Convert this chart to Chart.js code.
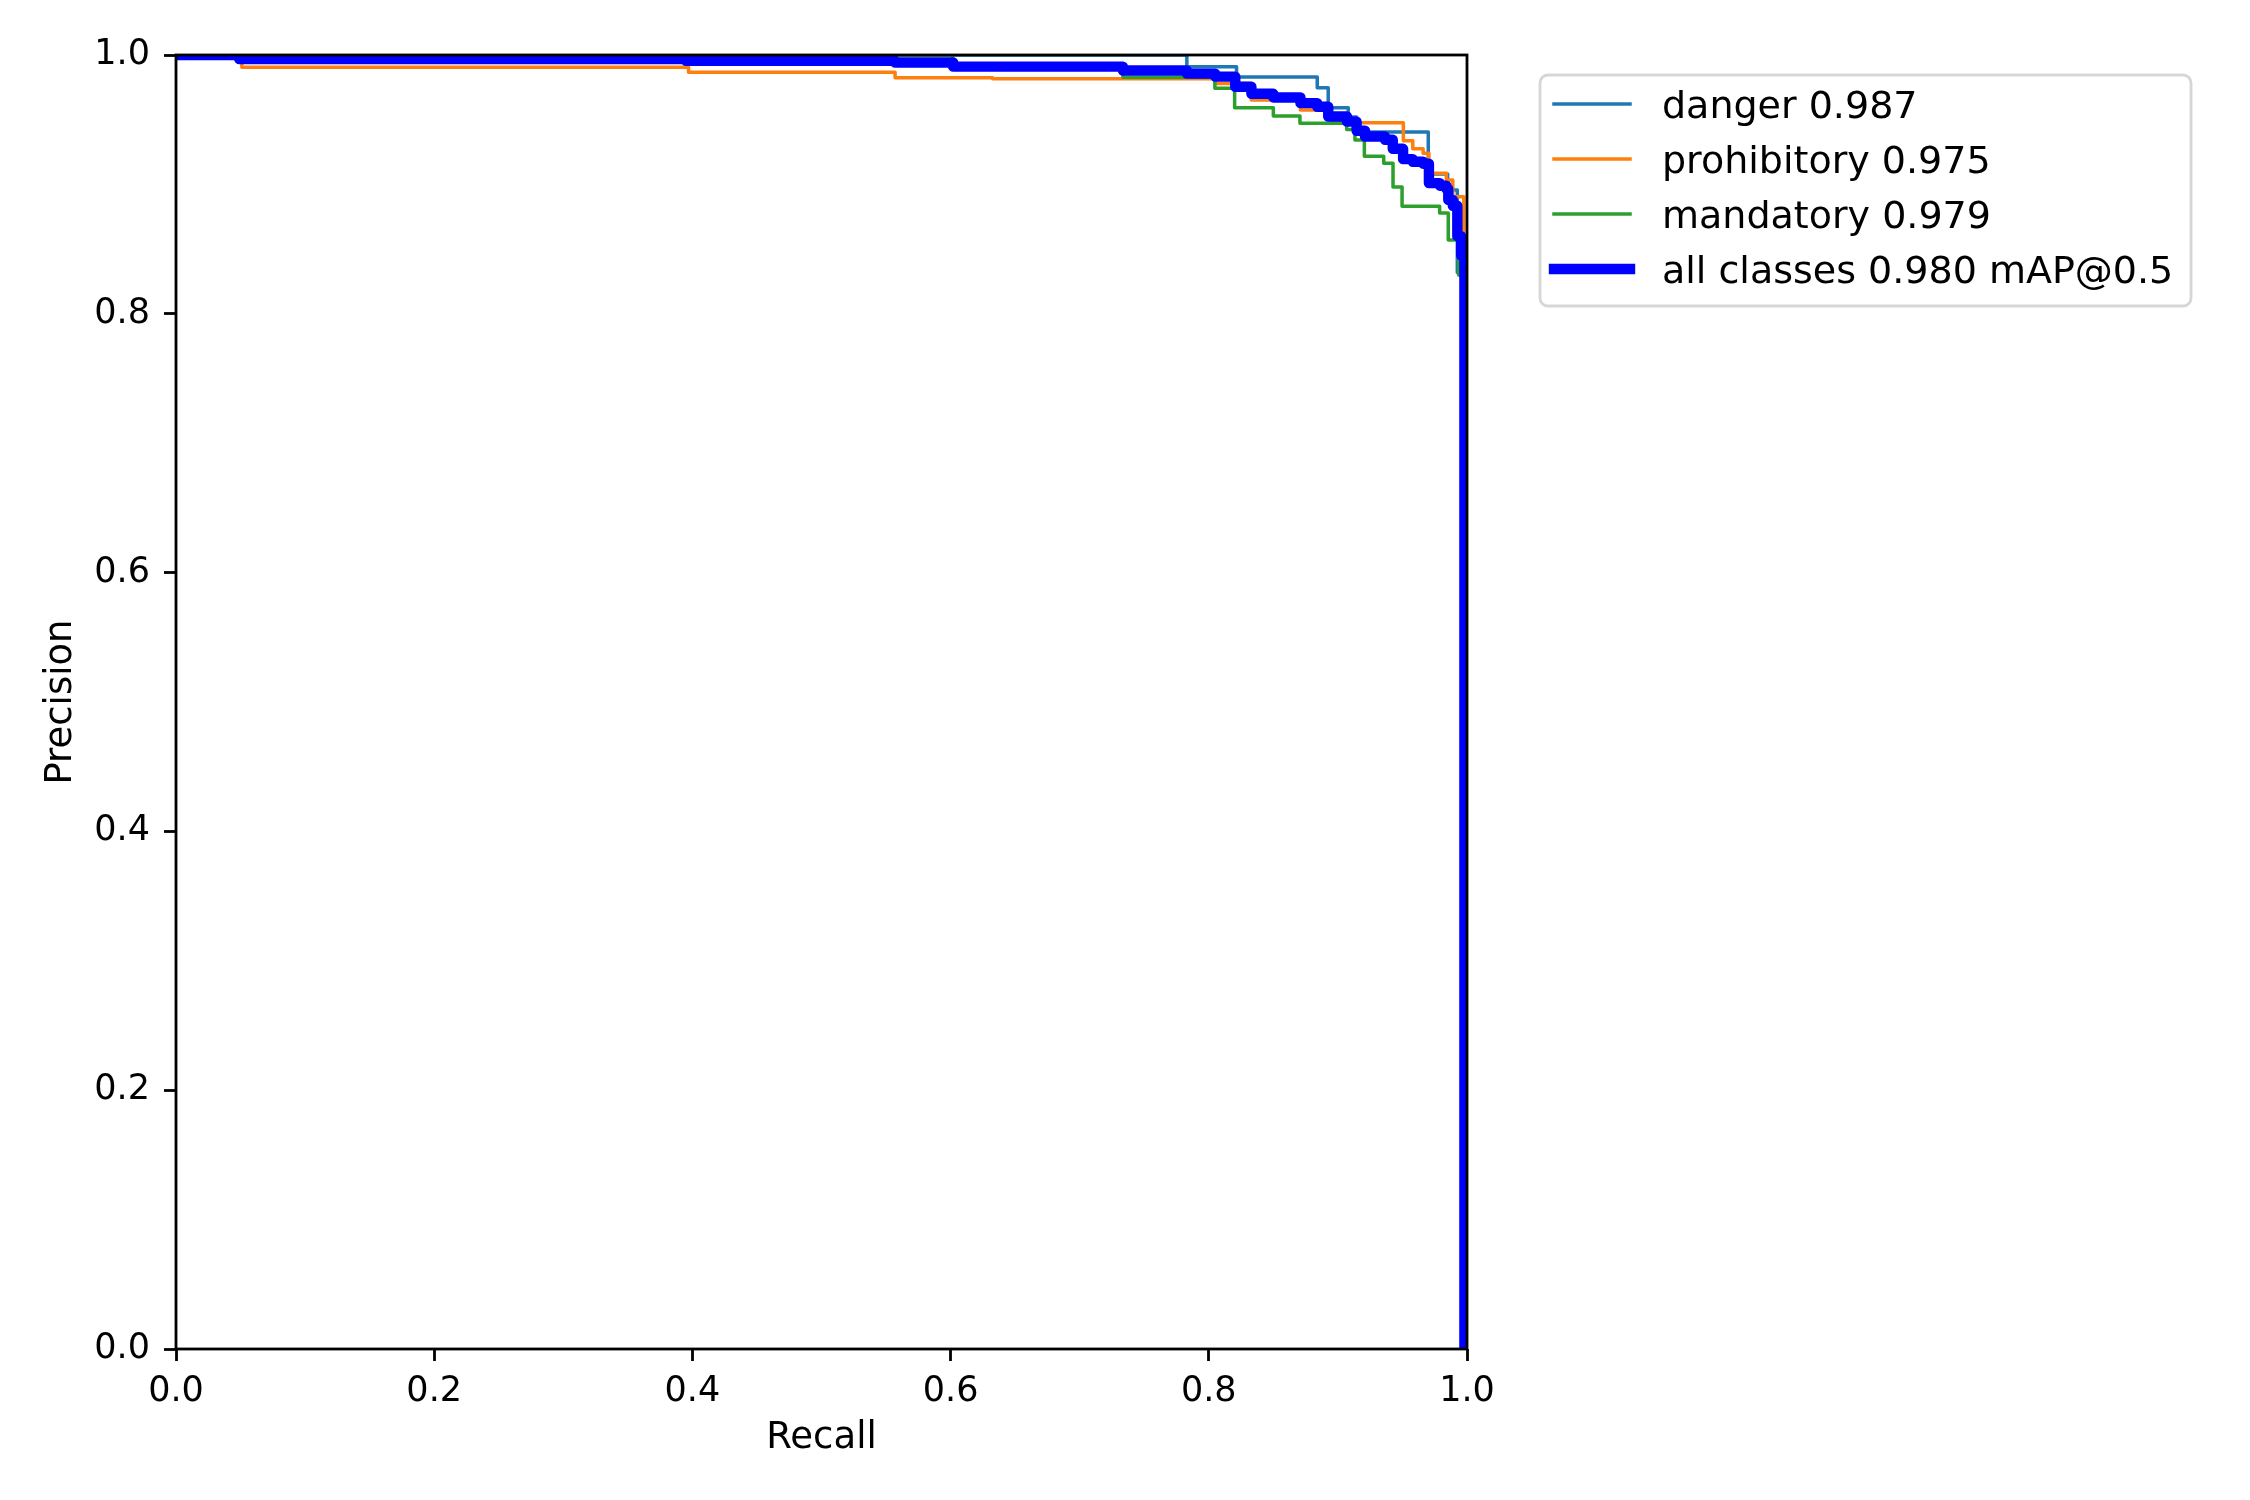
<!DOCTYPE html>
<html>
<head>
<meta charset="utf-8">
<title>Precision-Recall Curve</title>
<script src="https://cdn.jsdelivr.net/npm/chart.js@4.4.1/dist/chart.umd.min.js"></script>
<style>
  html, body { margin: 0; padding: 0; background: #ffffff; }
  canvas { display: block; }
</style>
</head>
<body>
<canvas id="prChart" width="2250" height="1500"></canvas>
<script>
// Tick values (both axes)
const tickValues = [0, 0.2, 0.4, 0.6, 0.8, 1.0];

// Classes and their mAP@0.5
const classNames = ['danger', 'prohibitory', 'mandatory'];
const classAP = [0.987, 0.975, 0.979];
const meanAP = 0.980;

// Step curves: recall where precision changes, precision held from there on
const dangerRecall = [0, 0.783, 0.8215, 0.884, 0.8925, 0.908, 0.9145, 0.970, 0.985, 0.9925, 0.998];
const dangerPrecision = [1.0, 0.991, 0.983, 0.9747, 0.9593, 0.952, 0.9405, 0.908, 0.8957, 0.832, 0];

const prohibitoryRecall = [0, 0.051, 0.397, 0.557, 0.6325, 0.805, 0.833, 0.871, 0.895, 0.9507, 0.958, 0.966, 0.9705, 0.984, 0.989, 0.9975];
const prohibitoryPrecision = [1.0, 0.9905, 0.9866, 0.9825, 0.9817, 0.978, 0.9652, 0.9575, 0.9477, 0.9337, 0.9275, 0.924, 0.9086, 0.9034, 0.8905, 0];

const mandatoryRecall = [0, 0.6017, 0.7335, 0.8047, 0.820, 0.850, 0.8706, 0.9068, 0.9132, 0.9205, 0.9355, 0.9427, 0.9497, 0.9788, 0.9855, 0.9935, 0.9975];
const mandatoryPrecision = [1.0, 0.991, 0.9828, 0.9743, 0.9593, 0.9529, 0.9472, 0.9425, 0.9343, 0.9217, 0.9163, 0.898, 0.8832, 0.8779, 0.857, 0.83, 0];

const allRecall = [0, 0.049, 0.395, 0.557, 0.602, 0.7335, 0.783, 0.805, 0.8205, 0.833, 0.85, 0.871, 0.884, 0.8925, 0.907, 0.9145, 0.921, 0.9365, 0.9425, 0.9505, 0.958, 0.966, 0.9705, 0.979, 0.984, 0.9855, 0.989, 0.9925, 0.9955, 0.998];
const allPrecision = [1.0, 0.9969, 0.9955, 0.9942, 0.991, 0.988, 0.9856, 0.9833, 0.9755, 0.970, 0.9672, 0.9628, 0.960, 0.9525, 0.9485, 0.9415, 0.937, 0.9345, 0.9275, 0.9195, 0.9175, 0.916, 0.901, 0.899, 0.8965, 0.888, 0.8835, 0.86, 0.845, 0];

const FONT = 'DejaVu Sans';
Chart.defaults.font.family = FONT;
Chart.defaults.color = '#000000';

// horizontal run at the old precision, then drop at the new recall
const toSteps = (recall, precision) => {
  const points = [];
  recall.forEach((r, i) => {
    if (i > 0) points.push({ x: r, y: precision[i - 1] });
    points.push({ x: r, y: precision[i] });
  });
  return points;
};

const lineStyle = (color, width, order) => ({
  borderColor: color,
  backgroundColor: color,
  borderWidth: width,
  pointRadius: 0,
  pointHoverRadius: 0,
  fill: false,
  tension: 0,
  borderJoinStyle: 'round',
  borderCapStyle: 'butt',
  clip: 0,
  order: order
});

const datasets = [
  { label: `${classNames[0]} ${classAP[0].toFixed(3)}`, data: toSteps(dangerRecall, dangerPrecision), ...lineStyle('#1f77b4', 3.5, 3) },
  { label: `${classNames[1]} ${classAP[1].toFixed(3)}`, data: toSteps(prohibitoryRecall, prohibitoryPrecision), ...lineStyle('#ff7f0e', 3.5, 2) },
  { label: `${classNames[2]} ${classAP[2].toFixed(3)}`, data: toSteps(mandatoryRecall, mandatoryPrecision), ...lineStyle('#2ca02c', 3.5, 1) },
  { label: `all classes ${meanAP.toFixed(3)} mAP@0.5`, data: toSteps(allRecall, allPrecision), ...lineStyle('#0000ff', 10.4, 0) }
];

// axes frame drawn on top of the curves, like matplotlib spines
const framePlugin = {
  id: 'frame',
  afterDatasetsDraw(chart) {
    const { ctx, chartArea: a } = chart;
    ctx.save();
    ctx.strokeStyle = '#000000';
    ctx.lineWidth = 2.8;
    ctx.strokeRect(a.left, a.top, a.right - a.left, a.bottom - a.top);
    ctx.restore();
  }
};

// framed legend outside the axes, upper left anchor
const legendPlugin = {
  id: 'boxLegend',
  afterDraw(chart) {
    const { ctx } = chart;
    ctx.save();
    ctx.fillStyle = 'rgba(255,255,255,0.8)';
    ctx.strokeStyle = 'rgba(204,204,204,0.8)';
    ctx.lineWidth = 2.8;
    ctx.beginPath();
    ctx.roundRect(1540, 75, 651, 231, 8);
    ctx.fill();
    ctx.stroke();
    ctx.font = `38px "${FONT}"`;
    ctx.textBaseline = 'alphabetic';
    ctx.textAlign = 'left';
    chart.data.datasets.forEach((ds, i) => {
      const y = 104 + i * 55;
      ctx.strokeStyle = ds.borderColor;
      ctx.lineWidth = ds.borderWidth;
      ctx.lineCap = 'square';
      ctx.beginPath();
      ctx.moveTo(1554, y);
      ctx.lineTo(1630, y);
      ctx.stroke();
      ctx.fillStyle = '#000000';
      ctx.fillText(ds.label, 1662, y + 13.5);
    });
    ctx.restore();
  }
};

const tickFont = { family: FONT, size: 35 };
const titleFont = { family: FONT, size: 37 };
const tickGrid = {
  drawOnChartArea: false,
  drawTicks: true,
  tickLength: 12,
  tickWidth: 2.8,
  tickColor: '#000000',
  color: '#000000'
};

new Chart(document.getElementById('prChart').getContext('2d'), {
  type: 'line',
  data: { datasets: datasets },
  options: {
    responsive: false,
    animation: false,
    devicePixelRatio: 1,
    events: [],
    layout: { padding: { left: 0, top: 55, right: 783, bottom: 0 } },
    plugins: {
      legend: { display: false },
      tooltip: { enabled: false }
    },
    scales: {
      x: {
        type: 'linear',
        min: 0,
        max: 1,
        afterBuildTicks: (scale) => { scale.ticks = tickValues.map(v => ({ value: v })); },
        afterFit: (scale) => { scale.height = 151; },
        ticks: {
          color: '#000000',
          font: tickFont,
          padding: 10,
          maxRotation: 0,
          autoSkip: false,
          callback: (v) => Number(v).toFixed(1)
        },
        grid: tickGrid,
        border: { display: false },
        title: {
          display: true,
          text: 'Recall',
          color: '#000000',
          font: titleFont,
          padding: { top: 0, bottom: 39 }
        }
      },
      y: {
        type: 'linear',
        min: 0,
        max: 1,
        afterBuildTicks: (scale) => { scale.ticks = tickValues.map(v => ({ value: v })); },
        afterFit: (scale) => { scale.width = 176; },
        ticks: {
          color: '#000000',
          font: tickFont,
          padding: 14,
          autoSkip: false,
          callback: (v) => Number(v).toFixed(1)
        },
        grid: tickGrid,
        border: { display: false },
        title: {
          display: true,
          text: 'Precision',
          color: '#000000',
          font: titleFont,
          padding: { top: 39, bottom: 0 }
        }
      }
    }
  },
  plugins: [framePlugin, legendPlugin]
});
</script>
</body>
</html>
